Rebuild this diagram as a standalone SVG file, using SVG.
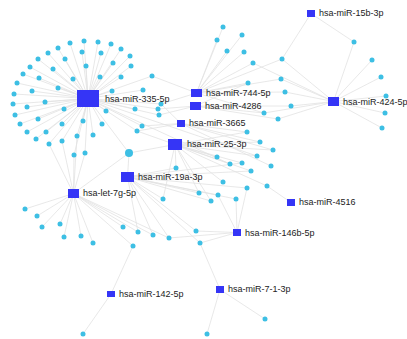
<svg xmlns="http://www.w3.org/2000/svg" width="407" height="339" viewBox="0 0 407 339">
<style>
.e line{stroke:#e2e2e2;stroke-width:0.8}
.t{fill:#3dbfe4}
.m{fill:#3535f6}
.l{font-family:"Liberation Sans",Arial,sans-serif;font-size:9px;fill:#222}
</style>
<rect width="407" height="339" fill="#fff"/>
<g id="connectors" class="e">
<line x1="88" y1="98.5" x2="70" y2="43"/><line x1="88" y1="98.5" x2="84" y2="41"/><line x1="88" y1="98.5" x2="98" y2="42"/><line x1="88" y1="98.5" x2="111" y2="44"/><line x1="88" y1="98.5" x2="121" y2="49"/><line x1="88" y1="98.5" x2="130" y2="56"/><line x1="88" y1="98.5" x2="58" y2="48"/><line x1="88" y1="98.5" x2="48" y2="53"/><line x1="88" y1="98.5" x2="38" y2="59"/><line x1="88" y1="98.5" x2="30" y2="67"/><line x1="88" y1="98.5" x2="23" y2="74"/><line x1="88" y1="98.5" x2="17" y2="83"/><line x1="88" y1="98.5" x2="14" y2="94"/><line x1="88" y1="98.5" x2="13" y2="104"/><line x1="88" y1="98.5" x2="15" y2="115"/><line x1="88" y1="98.5" x2="20" y2="124"/><line x1="88" y1="98.5" x2="27" y2="132"/><line x1="88" y1="98.5" x2="36" y2="139"/><line x1="88" y1="98.5" x2="46" y2="132"/><line x1="88" y1="98.5" x2="82" y2="52"/><line x1="88" y1="98.5" x2="101" y2="53"/><line x1="88" y1="98.5" x2="113" y2="63"/><line x1="88" y1="98.5" x2="65" y2="59"/><line x1="88" y1="98.5" x2="53" y2="69"/><line x1="88" y1="98.5" x2="39" y2="78"/><line x1="88" y1="98.5" x2="32" y2="91"/><line x1="88" y1="98.5" x2="27" y2="107"/><line x1="88" y1="98.5" x2="38" y2="119"/><line x1="88" y1="98.5" x2="86" y2="66"/><line x1="88" y1="98.5" x2="73" y2="79"/><line x1="88" y1="98.5" x2="100" y2="77"/><line x1="88" y1="98.5" x2="58" y2="88"/><line x1="88" y1="98.5" x2="45" y2="102"/><line x1="88" y1="98.5" x2="64" y2="109"/><line x1="88" y1="98.5" x2="62" y2="124"/><line x1="88" y1="98.5" x2="83" y2="121"/><line x1="88" y1="98.5" x2="102" y2="124"/><line x1="88" y1="98.5" x2="106" y2="111"/><line x1="88" y1="98.5" x2="112" y2="91"/><line x1="88" y1="98.5" x2="121" y2="77"/><line x1="88" y1="98.5" x2="131" y2="66"/><line x1="88" y1="98.5" x2="49" y2="144"/><line x1="88" y1="98.5" x2="62" y2="141"/><line x1="88" y1="98.5" x2="77" y2="136"/><line x1="88" y1="98.5" x2="93" y2="135"/><line x1="88" y1="98.5" x2="135" y2="109"/><line x1="88" y1="98.5" x2="143" y2="90"/><line x1="88" y1="98.5" x2="152" y2="76"/><line x1="88" y1="98.5" x2="161" y2="104"/><line x1="88" y1="98.5" x2="158" y2="109"/><line x1="88" y1="98.5" x2="159" y2="115"/><line x1="88" y1="98.5" x2="142" y2="126"/><line x1="88" y1="98.5" x2="137" y2="131"/><line x1="88" y1="98.5" x2="129" y2="153"/><line x1="88" y1="98.5" x2="74" y2="155"/><line x1="88" y1="98.5" x2="85" y2="153"/><line x1="88" y1="98.5" x2="257" y2="156"/><line x1="88" y1="98.5" x2="230" y2="164"/>
<line x1="196.5" y1="93" x2="152" y2="76"/><line x1="196.5" y1="93" x2="161" y2="104"/><line x1="196.5" y1="93" x2="223" y2="27"/><line x1="196.5" y1="93" x2="217" y2="40"/><line x1="196.5" y1="93" x2="242" y2="35"/><line x1="196.5" y1="93" x2="227" y2="51"/><line x1="196.5" y1="93" x2="244" y2="52"/><line x1="196.5" y1="93" x2="253" y2="63"/><line x1="196.5" y1="93" x2="248" y2="83"/><line x1="196.5" y1="93" x2="282" y2="59"/><line x1="196.5" y1="93" x2="281" y2="79"/><line x1="196.5" y1="93" x2="285" y2="92"/><line x1="196.5" y1="93" x2="264" y2="113"/>
<line x1="195.5" y1="106" x2="158" y2="109"/><line x1="195.5" y1="106" x2="159" y2="115"/><line x1="195.5" y1="106" x2="264" y2="113"/><line x1="195.5" y1="106" x2="278" y2="119"/><line x1="195.5" y1="106" x2="291" y2="106"/><line x1="195.5" y1="106" x2="248" y2="83"/>
<line x1="181" y1="123.5" x2="142" y2="126"/><line x1="181" y1="123.5" x2="137" y2="131"/><line x1="181" y1="123.5" x2="247" y2="132"/><line x1="181" y1="123.5" x2="260" y2="142"/><line x1="181" y1="123.5" x2="273" y2="150"/><line x1="181" y1="123.5" x2="271" y2="166"/><line x1="181" y1="123.5" x2="161" y2="104"/>
<line x1="333.5" y1="101.5" x2="282" y2="59"/><line x1="333.5" y1="101.5" x2="354" y2="42"/><line x1="333.5" y1="101.5" x2="372" y2="60"/><line x1="333.5" y1="101.5" x2="381" y2="77"/><line x1="333.5" y1="101.5" x2="386" y2="96"/><line x1="333.5" y1="101.5" x2="385" y2="113"/><line x1="333.5" y1="101.5" x2="382" y2="128"/><line x1="333.5" y1="101.5" x2="281" y2="79"/><line x1="333.5" y1="101.5" x2="285" y2="92"/><line x1="333.5" y1="101.5" x2="291" y2="106"/><line x1="333.5" y1="101.5" x2="264" y2="113"/><line x1="333.5" y1="101.5" x2="278" y2="119"/><line x1="333.5" y1="101.5" x2="253" y2="63"/>
<line x1="311" y1="13.5" x2="282" y2="59"/><line x1="311" y1="13.5" x2="354" y2="42"/>
<line x1="175" y1="144.5" x2="129" y2="153"/><line x1="175" y1="144.5" x2="137" y2="131"/><line x1="175" y1="144.5" x2="176" y2="168"/><line x1="175" y1="144.5" x2="217" y2="157"/><line x1="175" y1="144.5" x2="230" y2="164"/><line x1="175" y1="144.5" x2="242" y2="163"/><line x1="175" y1="144.5" x2="247" y2="132"/><line x1="175" y1="144.5" x2="260" y2="142"/><line x1="175" y1="144.5" x2="257" y2="156"/><line x1="175" y1="144.5" x2="251" y2="171"/><line x1="175" y1="144.5" x2="223" y2="182"/><line x1="175" y1="144.5" x2="199" y2="193"/><line x1="175" y1="144.5" x2="211" y2="201"/><line x1="175" y1="144.5" x2="163" y2="199"/><line x1="175" y1="144.5" x2="273" y2="150"/><line x1="175" y1="144.5" x2="267" y2="186"/>
<line x1="127.5" y1="177" x2="129" y2="153"/><line x1="127.5" y1="177" x2="163" y2="199"/><line x1="127.5" y1="177" x2="176" y2="168"/><line x1="127.5" y1="177" x2="199" y2="193"/><line x1="127.5" y1="177" x2="211" y2="201"/><line x1="127.5" y1="177" x2="218" y2="195"/><line x1="127.5" y1="177" x2="236" y2="199"/><line x1="127.5" y1="177" x2="247" y2="188"/><line x1="127.5" y1="177" x2="138" y2="232"/><line x1="127.5" y1="177" x2="153" y2="235"/><line x1="127.5" y1="177" x2="169" y2="238"/><line x1="127.5" y1="177" x2="196" y2="231"/><line x1="127.5" y1="177" x2="200" y2="243"/><line x1="127.5" y1="177" x2="251" y2="171"/><line x1="127.5" y1="177" x2="242" y2="163"/>
<line x1="73.5" y1="193.5" x2="49" y2="144"/><line x1="73.5" y1="193.5" x2="62" y2="141"/><line x1="73.5" y1="193.5" x2="77" y2="136"/><line x1="73.5" y1="193.5" x2="74" y2="155"/><line x1="73.5" y1="193.5" x2="85" y2="153"/><line x1="73.5" y1="193.5" x2="129" y2="153"/><line x1="73.5" y1="193.5" x2="25" y2="209"/><line x1="73.5" y1="193.5" x2="37" y2="216"/><line x1="73.5" y1="193.5" x2="42" y2="227"/><line x1="73.5" y1="193.5" x2="60" y2="224"/><line x1="73.5" y1="193.5" x2="64" y2="237"/><line x1="73.5" y1="193.5" x2="81" y2="236"/><line x1="73.5" y1="193.5" x2="93" y2="243"/><line x1="73.5" y1="193.5" x2="123" y2="227"/><line x1="73.5" y1="193.5" x2="138" y2="232"/><line x1="73.5" y1="193.5" x2="133" y2="246"/><line x1="73.5" y1="193.5" x2="153" y2="235"/><line x1="73.5" y1="193.5" x2="169" y2="238"/>
<line x1="291" y1="202.5" x2="267" y2="186"/>
<line x1="237" y1="232.5" x2="200" y2="243"/><line x1="237" y1="232.5" x2="196" y2="231"/><line x1="237" y1="232.5" x2="169" y2="238"/><line x1="237" y1="232.5" x2="236" y2="199"/><line x1="237" y1="232.5" x2="218" y2="195"/><line x1="237" y1="232.5" x2="247" y2="188"/>
<line x1="111" y1="294" x2="133" y2="246"/><line x1="111" y1="294" x2="83" y2="334"/>
<line x1="220" y1="289.5" x2="200" y2="243"/><line x1="220" y1="289.5" x2="207" y2="334"/><line x1="220" y1="289.5" x2="265" y2="319"/>
</g>
<g id="targets">
<g id="t1"><circle class="t" cx="70" cy="43" r="2.5"/></g>
<g id="t2"><circle class="t" cx="84" cy="41" r="2.5"/></g>
<g id="t3"><circle class="t" cx="98" cy="42" r="2.5"/></g>
<g id="t4"><circle class="t" cx="111" cy="44" r="2.5"/></g>
<g id="t5"><circle class="t" cx="121" cy="49" r="2.5"/></g>
<g id="t6"><circle class="t" cx="130" cy="56" r="2.5"/></g>
<g id="t7"><circle class="t" cx="58" cy="48" r="2.5"/></g>
<g id="t8"><circle class="t" cx="48" cy="53" r="2.5"/></g>
<g id="t9"><circle class="t" cx="38" cy="59" r="2.5"/></g>
<g id="t10"><circle class="t" cx="30" cy="67" r="2.5"/></g>
<g id="t11"><circle class="t" cx="23" cy="74" r="2.5"/></g>
<g id="t12"><circle class="t" cx="17" cy="83" r="2.5"/></g>
<g id="t13"><circle class="t" cx="14" cy="94" r="2.5"/></g>
<g id="t14"><circle class="t" cx="13" cy="104" r="2.5"/></g>
<g id="t15"><circle class="t" cx="15" cy="115" r="2.5"/></g>
<g id="t16"><circle class="t" cx="20" cy="124" r="2.5"/></g>
<g id="t17"><circle class="t" cx="27" cy="132" r="2.5"/></g>
<g id="t18"><circle class="t" cx="36" cy="139" r="2.5"/></g>
<g id="t19"><circle class="t" cx="46" cy="132" r="2.5"/></g>
<g id="t20"><circle class="t" cx="82" cy="52" r="2.5"/></g>
<g id="t21"><circle class="t" cx="101" cy="53" r="2.5"/></g>
<g id="t22"><circle class="t" cx="113" cy="63" r="2.5"/></g>
<g id="t23"><circle class="t" cx="65" cy="59" r="2.5"/></g>
<g id="t24"><circle class="t" cx="53" cy="69" r="2.5"/></g>
<g id="t25"><circle class="t" cx="39" cy="78" r="2.5"/></g>
<g id="t26"><circle class="t" cx="32" cy="91" r="2.5"/></g>
<g id="t27"><circle class="t" cx="27" cy="107" r="2.5"/></g>
<g id="t28"><circle class="t" cx="38" cy="119" r="2.5"/></g>
<g id="t29"><circle class="t" cx="86" cy="66" r="2.5"/></g>
<g id="t30"><circle class="t" cx="73" cy="79" r="2.5"/></g>
<g id="t31"><circle class="t" cx="100" cy="77" r="2.5"/></g>
<g id="t32"><circle class="t" cx="58" cy="88" r="2.5"/></g>
<g id="t33"><circle class="t" cx="45" cy="102" r="2.5"/></g>
<g id="t34"><circle class="t" cx="64" cy="109" r="2.5"/></g>
<g id="t35"><circle class="t" cx="62" cy="124" r="2.5"/></g>
<g id="t36"><circle class="t" cx="83" cy="121" r="2.5"/></g>
<g id="t37"><circle class="t" cx="102" cy="124" r="2.5"/></g>
<g id="t38"><circle class="t" cx="106" cy="111" r="2.5"/></g>
<g id="t39"><circle class="t" cx="112" cy="91" r="2.5"/></g>
<g id="t40"><circle class="t" cx="121" cy="77" r="2.5"/></g>
<g id="t41"><circle class="t" cx="131" cy="66" r="2.5"/></g>
<g id="t42"><circle class="t" cx="49" cy="144" r="2.5"/></g>
<g id="t43"><circle class="t" cx="62" cy="141" r="2.5"/></g>
<g id="t44"><circle class="t" cx="77" cy="136" r="2.5"/></g>
<g id="t45"><circle class="t" cx="93" cy="135" r="2.5"/></g>
<g id="t46"><circle class="t" cx="135" cy="109" r="2.5"/></g>
<g id="t47"><circle class="t" cx="143" cy="90" r="2.5"/></g>
<g id="t48"><circle class="t" cx="152" cy="76" r="2.5"/></g>
<g id="t49"><circle class="t" cx="161" cy="104" r="2.5"/></g>
<g id="t50"><circle class="t" cx="158" cy="109" r="2.5"/></g>
<g id="t51"><circle class="t" cx="159" cy="115" r="2.5"/></g>
<g id="t52"><circle class="t" cx="142" cy="126" r="2.5"/></g>
<g id="t53"><circle class="t" cx="137" cy="131" r="2.5"/></g>
<g id="t54"><circle class="t" cx="129" cy="153" r="4"/></g>
<g id="t55"><circle class="t" cx="74" cy="155" r="2.5"/></g>
<g id="t56"><circle class="t" cx="85" cy="153" r="2.5"/></g>
<g id="t57"><circle class="t" cx="223" cy="27" r="2.5"/></g>
<g id="t58"><circle class="t" cx="217" cy="40" r="2.5"/></g>
<g id="t59"><circle class="t" cx="242" cy="35" r="2.5"/></g>
<g id="t60"><circle class="t" cx="227" cy="51" r="2.5"/></g>
<g id="t61"><circle class="t" cx="244" cy="52" r="2.5"/></g>
<g id="t62"><circle class="t" cx="253" cy="63" r="2.5"/></g>
<g id="t63"><circle class="t" cx="248" cy="83" r="2.5"/></g>
<g id="t64"><circle class="t" cx="282" cy="59" r="2.5"/></g>
<g id="t65"><circle class="t" cx="281" cy="79" r="2.5"/></g>
<g id="t66"><circle class="t" cx="285" cy="92" r="2.5"/></g>
<g id="t67"><circle class="t" cx="264" cy="113" r="2.5"/></g>
<g id="t68"><circle class="t" cx="291" cy="106" r="2.5"/></g>
<g id="t69"><circle class="t" cx="278" cy="119" r="2.5"/></g>
<g id="t70"><circle class="t" cx="354" cy="42" r="2.5"/></g>
<g id="t71"><circle class="t" cx="372" cy="60" r="2.5"/></g>
<g id="t72"><circle class="t" cx="381" cy="77" r="2.5"/></g>
<g id="t73"><circle class="t" cx="386" cy="96" r="2.5"/></g>
<g id="t74"><circle class="t" cx="385" cy="113" r="2.5"/></g>
<g id="t75"><circle class="t" cx="382" cy="128" r="2.5"/></g>
<g id="t76"><circle class="t" cx="247" cy="132" r="2.5"/></g>
<g id="t77"><circle class="t" cx="260" cy="142" r="2.5"/></g>
<g id="t78"><circle class="t" cx="273" cy="150" r="2.5"/></g>
<g id="t79"><circle class="t" cx="271" cy="166" r="2.5"/></g>
<g id="t80"><circle class="t" cx="267" cy="186" r="2.5"/></g>
<g id="t81"><circle class="t" cx="217" cy="157" r="2.5"/></g>
<g id="t82"><circle class="t" cx="230" cy="164" r="2.5"/></g>
<g id="t83"><circle class="t" cx="242" cy="163" r="2.5"/></g>
<g id="t84"><circle class="t" cx="257" cy="156" r="2.5"/></g>
<g id="t85"><circle class="t" cx="251" cy="171" r="2.5"/></g>
<g id="t86"><circle class="t" cx="176" cy="168" r="2.5"/></g>
<g id="t87"><circle class="t" cx="223" cy="182" r="2.5"/></g>
<g id="t88"><circle class="t" cx="247" cy="188" r="2.5"/></g>
<g id="t89"><circle class="t" cx="199" cy="193" r="2.5"/></g>
<g id="t90"><circle class="t" cx="218" cy="195" r="2.5"/></g>
<g id="t91"><circle class="t" cx="211" cy="201" r="2.5"/></g>
<g id="t92"><circle class="t" cx="236" cy="199" r="2.5"/></g>
<g id="t93"><circle class="t" cx="163" cy="199" r="2.5"/></g>
<g id="t94"><circle class="t" cx="25" cy="209" r="2.5"/></g>
<g id="t95"><circle class="t" cx="37" cy="216" r="2.5"/></g>
<g id="t96"><circle class="t" cx="42" cy="227" r="2.5"/></g>
<g id="t97"><circle class="t" cx="60" cy="224" r="2.5"/></g>
<g id="t98"><circle class="t" cx="64" cy="237" r="2.5"/></g>
<g id="t99"><circle class="t" cx="81" cy="236" r="2.5"/></g>
<g id="t100"><circle class="t" cx="93" cy="243" r="2.5"/></g>
<g id="t101"><circle class="t" cx="123" cy="227" r="2.5"/></g>
<g id="t102"><circle class="t" cx="138" cy="232" r="2.5"/></g>
<g id="t103"><circle class="t" cx="133" cy="246" r="2.5"/></g>
<g id="t104"><circle class="t" cx="153" cy="235" r="2.5"/></g>
<g id="t105"><circle class="t" cx="169" cy="238" r="2.5"/></g>
<g id="t106"><circle class="t" cx="196" cy="231" r="2.5"/></g>
<g id="t107"><circle class="t" cx="200" cy="243" r="2.5"/></g>
<g id="t108"><circle class="t" cx="83" cy="334" r="2.5"/></g>
<g id="t109"><circle class="t" cx="207" cy="334" r="2.5"/></g>
<g id="t110"><circle class="t" cx="265" cy="319" r="2.5"/></g>
</g>
<g id="mirnas">
<g id="mir-335-5p"><rect class="m" x="77" y="90" width="22" height="17"/><text class="l" x="105" y="102">hsa-miR-335-5p</text></g>
<g id="mir-744-5p"><rect class="m" x="191" y="89" width="11" height="8"/><text class="l" x="206" y="96">hsa-miR-744-5p</text></g>
<g id="mir-4286"><rect class="m" x="190" y="102" width="11" height="8"/><text class="l" x="205" y="109">hsa-miR-4286</text></g>
<g id="mir-3665"><rect class="m" x="177" y="120" width="8" height="7"/><text class="l" x="189" y="126">hsa-miR-3665</text></g>
<g id="mir-25-3p"><rect class="m" x="168" y="139" width="14" height="11"/><text class="l" x="187" y="147">hsa-miR-25-3p</text></g>
<g id="mir-19a-3p"><rect class="m" x="121" y="172" width="13" height="10"/><text class="l" x="138" y="180">hsa-miR-19a-3p</text></g>
<g id="let-7g-5p"><rect class="m" x="68" y="189" width="11" height="9"/><text class="l" x="83" y="196">hsa-let-7g-5p</text></g>
<g id="mir-424-5p"><rect class="m" x="328" y="97" width="11" height="9"/><text class="l" x="343" y="105">hsa-miR-424-5p</text></g>
<g id="mir-15b-3p"><rect class="m" x="307" y="10" width="8" height="7"/><text class="l" x="319" y="16">hsa-miR-15b-3p</text></g>
<g id="mir-4516"><rect class="m" x="287" y="199" width="8" height="7"/><text class="l" x="299" y="205">hsa-miR-4516</text></g>
<g id="mir-146b-5p"><rect class="m" x="233" y="229" width="8" height="7"/><text class="l" x="245" y="236">hsa-miR-146b-5p</text></g>
<g id="mir-142-5p"><rect class="m" x="107" y="291" width="8" height="6"/><text class="l" x="119" y="297">hsa-miR-142-5p</text></g>
<g id="mir-7-1-3p"><rect class="m" x="216" y="286" width="8" height="7"/><text class="l" x="228" y="292">hsa-miR-7-1-3p</text></g>
</g>
</svg>
